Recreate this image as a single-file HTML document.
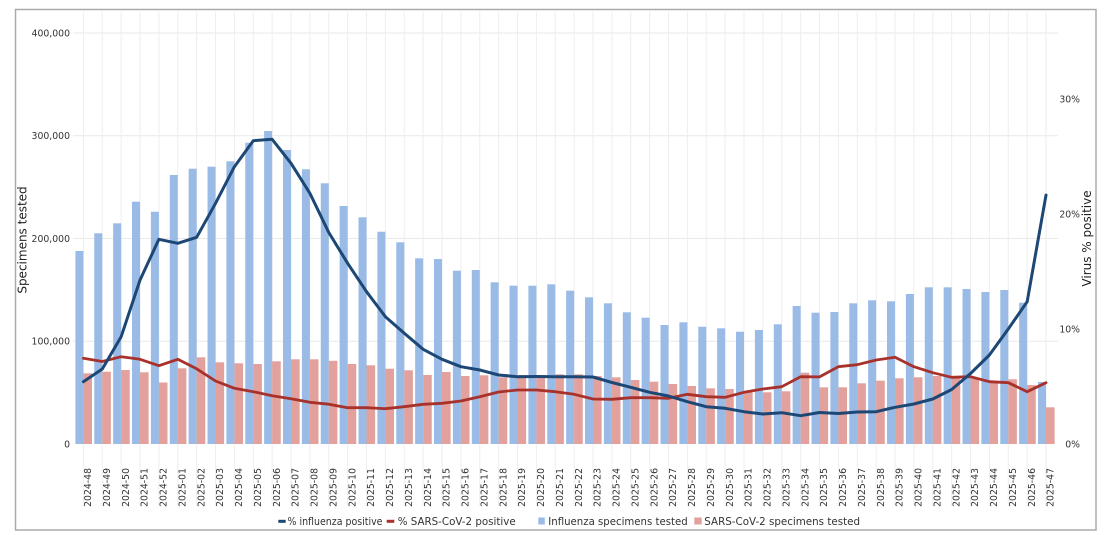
<!DOCTYPE html>
<html><head><meta charset="utf-8"><style>
html,body{margin:0;padding:0;background:#fff;width:1108px;height:535px;overflow:hidden;}
svg{display:block;overflow:hidden;}
text{font-family:"DejaVu Sans","Liberation Sans",sans-serif;}
</style></head><body>
<svg width="1108" height="535" viewBox="0 0 1108 535" xmlns="http://www.w3.org/2000/svg">
<rect x="0" y="0" width="1108" height="535" fill="#fff"/>
<!-- frame -->
<rect x="15.5" y="9.5" width="1080.5" height="520.5" fill="none" stroke="#ababab" stroke-width="1.5"/>
<!-- horizontal gridlines -->
<path d="M73,33H1058M73,135.75H1058M73,238.5H1058M73,341.25H1058" stroke="#e9e9e9" stroke-width="1"/>
<g transform="translate(83.4,0) scale(18.875,1)">
<!-- vertical gridlines -->
<path d="M0,12V506M1,12V506M2,12V506M3,12V506M4,12V506M5,12V506M6,12V506M7,12V506M8,12V506M9,12V506M10,12V506M11,12V506M12,12V506M13,12V506M14,12V506M15,12V506M16,12V506M17,12V506M18,12V506M19,12V506M20,12V506M21,12V506M22,12V506M23,12V506M24,12V506M25,12V506M26,12V506M27,12V506M28,12V506M29,12V506M30,12V506M31,12V506M32,12V506M33,12V506M34,12V506M35,12V506M36,12V506M37,12V506M38,12V506M39,12V506M40,12V506M41,12V506M42,12V506M43,12V506M44,12V506M45,12V506M46,12V506M47,12V506M48,12V506M49,12V506M50,12V506M51,12V506" stroke="#eeeeee" stroke-width="1" vector-effect="non-scaling-stroke"/>
<!-- influenza bars -->
<g fill="#99bbe6">
<rect x="-0.424" width="0.424" y="251" height="193"/>
<rect x="0.576" width="0.424" y="233.3" height="210.7"/>
<rect x="1.576" width="0.424" y="223.3" height="220.7"/>
<rect x="2.576" width="0.424" y="201.7" height="242.3"/>
<rect x="3.576" width="0.424" y="211.7" height="232.3"/>
<rect x="4.576" width="0.424" y="175" height="269"/>
<rect x="5.576" width="0.424" y="168.7" height="275.3"/>
<rect x="6.576" width="0.424" y="166.7" height="277.3"/>
<rect x="7.576" width="0.424" y="161.3" height="282.7"/>
<rect x="8.576" width="0.424" y="142.7" height="301.3"/>
<rect x="9.576" width="0.424" y="131" height="313"/>
<rect x="10.576" width="0.424" y="150" height="294"/>
<rect x="11.576" width="0.424" y="169.3" height="274.7"/>
<rect x="12.576" width="0.424" y="183.3" height="260.7"/>
<rect x="13.576" width="0.424" y="206" height="238"/>
<rect x="14.576" width="0.424" y="217.3" height="226.7"/>
<rect x="15.576" width="0.424" y="231.7" height="212.3"/>
<rect x="16.576" width="0.424" y="242.3" height="201.7"/>
<rect x="17.576" width="0.424" y="258.3" height="185.7"/>
<rect x="18.576" width="0.424" y="259" height="185"/>
<rect x="19.576" width="0.424" y="270.7" height="173.3"/>
<rect x="20.576" width="0.424" y="270" height="174"/>
<rect x="21.576" width="0.424" y="282.3" height="161.7"/>
<rect x="22.576" width="0.424" y="285.7" height="158.3"/>
<rect x="23.576" width="0.424" y="285.7" height="158.3"/>
<rect x="24.576" width="0.424" y="284.3" height="159.7"/>
<rect x="25.576" width="0.424" y="290.7" height="153.3"/>
<rect x="26.576" width="0.424" y="297.3" height="146.7"/>
<rect x="27.576" width="0.424" y="303.3" height="140.7"/>
<rect x="28.576" width="0.424" y="312.3" height="131.7"/>
<rect x="29.576" width="0.424" y="317.7" height="126.3"/>
<rect x="30.576" width="0.424" y="325" height="119"/>
<rect x="31.576" width="0.424" y="322.3" height="121.7"/>
<rect x="32.576" width="0.424" y="326.7" height="117.3"/>
<rect x="33.576" width="0.424" y="328.3" height="115.7"/>
<rect x="34.576" width="0.424" y="331.7" height="112.3"/>
<rect x="35.576" width="0.424" y="330" height="114"/>
<rect x="36.576" width="0.424" y="324.3" height="119.7"/>
<rect x="37.576" width="0.424" y="306" height="138"/>
<rect x="38.576" width="0.424" y="312.7" height="131.3"/>
<rect x="39.576" width="0.424" y="312" height="132"/>
<rect x="40.576" width="0.424" y="303.3" height="140.7"/>
<rect x="41.576" width="0.424" y="300.3" height="143.7"/>
<rect x="42.576" width="0.424" y="301.3" height="142.7"/>
<rect x="43.576" width="0.424" y="294" height="150"/>
<rect x="44.576" width="0.424" y="287.3" height="156.7"/>
<rect x="45.576" width="0.424" y="287.3" height="156.7"/>
<rect x="46.576" width="0.424" y="289" height="155"/>
<rect x="47.576" width="0.424" y="292" height="152"/>
<rect x="48.576" width="0.424" y="290" height="154"/>
<rect x="49.576" width="0.424" y="302.7" height="141.3"/>
<rect x="50.576" width="0.424" y="382" height="62"/>
</g>
<!-- SARS-CoV-2 bars -->
<g fill="#e2a19c">
<rect x="0" width="0.456" y="373.3" height="70.7"/>
<rect x="1" width="0.456" y="371.7" height="72.3"/>
<rect x="2" width="0.456" y="370" height="74"/>
<rect x="3" width="0.456" y="372.3" height="71.7"/>
<rect x="4" width="0.456" y="382.5" height="61.5"/>
<rect x="5" width="0.456" y="368.3" height="75.7"/>
<rect x="6" width="0.456" y="357.3" height="86.7"/>
<rect x="7" width="0.456" y="362.3" height="81.7"/>
<rect x="8" width="0.456" y="363.3" height="80.7"/>
<rect x="9" width="0.456" y="364" height="80"/>
<rect x="10" width="0.456" y="361.3" height="82.7"/>
<rect x="11" width="0.456" y="359.3" height="84.7"/>
<rect x="12" width="0.456" y="359.3" height="84.7"/>
<rect x="13" width="0.456" y="360.8" height="83.2"/>
<rect x="14" width="0.456" y="364" height="80"/>
<rect x="15" width="0.456" y="365.3" height="78.7"/>
<rect x="16" width="0.456" y="368.7" height="75.3"/>
<rect x="17" width="0.456" y="370.3" height="73.7"/>
<rect x="18" width="0.456" y="375" height="69"/>
<rect x="19" width="0.456" y="372" height="72"/>
<rect x="20" width="0.456" y="376" height="68"/>
<rect x="21" width="0.456" y="375.3" height="68.7"/>
<rect x="22" width="0.456" y="377.3" height="66.7"/>
<rect x="23" width="0.456" y="375" height="69"/>
<rect x="24" width="0.456" y="375" height="69"/>
<rect x="25" width="0.456" y="374.3" height="69.7"/>
<rect x="26" width="0.456" y="374.3" height="69.7"/>
<rect x="27" width="0.456" y="376" height="68"/>
<rect x="28" width="0.456" y="377.3" height="66.7"/>
<rect x="29" width="0.456" y="380" height="64"/>
<rect x="30" width="0.456" y="381.7" height="62.3"/>
<rect x="31" width="0.456" y="384" height="60"/>
<rect x="32" width="0.456" y="386" height="58"/>
<rect x="33" width="0.456" y="388.3" height="55.7"/>
<rect x="34" width="0.456" y="389" height="55"/>
<rect x="35" width="0.456" y="391.7" height="52.3"/>
<rect x="36" width="0.456" y="392.3" height="51.7"/>
<rect x="37" width="0.456" y="391.3" height="52.7"/>
<rect x="38" width="0.456" y="372.7" height="71.3"/>
<rect x="39" width="0.456" y="387.3" height="56.7"/>
<rect x="40" width="0.456" y="387.3" height="56.7"/>
<rect x="41" width="0.456" y="383.3" height="60.7"/>
<rect x="42" width="0.456" y="380.7" height="63.3"/>
<rect x="43" width="0.456" y="378.3" height="65.7"/>
<rect x="44" width="0.456" y="377.3" height="66.7"/>
<rect x="45" width="0.456" y="376" height="68"/>
<rect x="46" width="0.456" y="377.5" height="66.5"/>
<rect x="47" width="0.456" y="378.3" height="65.7"/>
<rect x="48" width="0.456" y="380.7" height="63.3"/>
<rect x="49" width="0.456" y="379.3" height="64.7"/>
<rect x="50" width="0.456" y="385" height="59"/>
<rect x="51" width="0.456" y="407.3" height="36.7"/>
</g>
<!-- lines -->
<polyline fill="none" stroke="#a8322b" stroke-width="2.8" stroke-linejoin="round" stroke-linecap="round" vector-effect="non-scaling-stroke" points="0,358.3 1,361.5 2,356.7 3,359.3 4,365.7 5,359.3 6,368.8 7,381 8,388.3 9,391.7 10,395.7 11,398.7 12,402.3 13,404.2 14,407.7 15,407.7 16,408.7 17,406.7 18,404.3 19,403.3 20,401 21,396.7 22,392 23,390 24,390 25,391.7 26,394.3 27,399 28,399.3 29,397.7 30,397.7 31,398.3 32,394.3 33,396.7 34,397.3 35,392.3 36,389 37,386.7 38,376.7 39,376.9 40,366.7 41,364.7 42,360 43,357.3 44,366.7 45,372.7 46,377.3 47,376.7 48,381.7 49,382.7 50,391.7 51,382.7"/>
<polyline fill="none" stroke="#1d4775" stroke-width="3" stroke-linejoin="round" stroke-linecap="round" vector-effect="non-scaling-stroke" points="0,381.7 1,369 2,336.7 3,280 4,239.3 5,243.3 6,237.3 7,203.3 8,166.7 9,140.7 10,139.3 11,163.3 12,193.3 13,232.5 14,263.3 15,291.7 16,316.7 17,333.3 18,349.3 19,359.3 20,366.7 21,370 22,375 23,376.7 24,376.5 25,376.7 26,376.7 27,377 28,382.5 29,387.3 30,392.3 31,396 32,401.7 33,406.7 34,408.3 35,411.7 36,414 37,412.7 38,415.7 39,412.5 40,413.5 41,412 42,411.7 43,407.3 44,404 45,399 46,389.5 47,373.5 48,355 49,329 50,301.7 51,195"/>
</g>
<!-- axis labels -->
<g font-size="9.3" fill="#333" text-anchor="end">
<text x="70" y="36.4">400,000</text>
<text x="70" y="139.2">300,000</text>
<text x="70" y="241.9">200,000</text>
<text x="70" y="344.6">100,000</text>
<text x="70" y="447.4">0</text>
<text x="1080" y="102.4">30%</text>
<text x="1080" y="217.4">20%</text>
<text x="1080" y="332.4">10%</text>
<text x="1080" y="447.4">0%</text>
</g>
<!-- axis titles -->
<text transform="translate(26.5,240) rotate(-90)" font-size="12" fill="#222" text-anchor="middle">Specimens tested</text>
<text transform="translate(1091,238.5) rotate(-90)" font-size="12" fill="#222" text-anchor="middle">Virus % positive</text>
<!-- x labels -->
<g font-size="9.3" fill="#333" text-anchor="end">
<text transform="translate(91,468) rotate(-90)">2024-48</text>
<text transform="translate(109.88,468) rotate(-90)">2024-49</text>
<text transform="translate(128.75,468) rotate(-90)">2024-50</text>
<text transform="translate(147.63,468) rotate(-90)">2024-51</text>
<text transform="translate(166.5,468) rotate(-90)">2024-52</text>
<text transform="translate(185.38,468) rotate(-90)">2025-01</text>
<text transform="translate(204.25,468) rotate(-90)">2025-02</text>
<text transform="translate(223.13,468) rotate(-90)">2025-03</text>
<text transform="translate(242,468) rotate(-90)">2025-04</text>
<text transform="translate(260.88,468) rotate(-90)">2025-05</text>
<text transform="translate(279.75,468) rotate(-90)">2025-06</text>
<text transform="translate(298.63,468) rotate(-90)">2025-07</text>
<text transform="translate(317.5,468) rotate(-90)">2025-08</text>
<text transform="translate(336.38,468) rotate(-90)">2025-09</text>
<text transform="translate(355.25,468) rotate(-90)">2025-10</text>
<text transform="translate(374.13,468) rotate(-90)">2025-11</text>
<text transform="translate(393,468) rotate(-90)">2025-12</text>
<text transform="translate(411.88,468) rotate(-90)">2025-13</text>
<text transform="translate(430.75,468) rotate(-90)">2025-14</text>
<text transform="translate(449.63,468) rotate(-90)">2025-15</text>
<text transform="translate(468.5,468) rotate(-90)">2025-16</text>
<text transform="translate(487.38,468) rotate(-90)">2025-17</text>
<text transform="translate(506.25,468) rotate(-90)">2025-18</text>
<text transform="translate(525.13,468) rotate(-90)">2025-19</text>
<text transform="translate(544,468) rotate(-90)">2025-20</text>
<text transform="translate(562.88,468) rotate(-90)">2025-21</text>
<text transform="translate(581.75,468) rotate(-90)">2025-22</text>
<text transform="translate(600.63,468) rotate(-90)">2025-23</text>
<text transform="translate(619.5,468) rotate(-90)">2025-24</text>
<text transform="translate(638.38,468) rotate(-90)">2025-25</text>
<text transform="translate(657.25,468) rotate(-90)">2025-26</text>
<text transform="translate(676.13,468) rotate(-90)">2025-27</text>
<text transform="translate(695,468) rotate(-90)">2025-28</text>
<text transform="translate(713.88,468) rotate(-90)">2025-29</text>
<text transform="translate(732.75,468) rotate(-90)">2025-30</text>
<text transform="translate(751.63,468) rotate(-90)">2025-31</text>
<text transform="translate(770.5,468) rotate(-90)">2025-32</text>
<text transform="translate(789.38,468) rotate(-90)">2025-33</text>
<text transform="translate(808.25,468) rotate(-90)">2025-34</text>
<text transform="translate(827.13,468) rotate(-90)">2025-35</text>
<text transform="translate(846,468) rotate(-90)">2025-36</text>
<text transform="translate(864.88,468) rotate(-90)">2025-37</text>
<text transform="translate(883.75,468) rotate(-90)">2025-38</text>
<text transform="translate(902.63,468) rotate(-90)">2025-39</text>
<text transform="translate(921.5,468) rotate(-90)">2025-40</text>
<text transform="translate(940.38,468) rotate(-90)">2025-41</text>
<text transform="translate(959.25,468) rotate(-90)">2025-42</text>
<text transform="translate(978.13,468) rotate(-90)">2025-43</text>
<text transform="translate(997,468) rotate(-90)">2025-44</text>
<text transform="translate(1015.88,468) rotate(-90)">2025-45</text>
<text transform="translate(1034.75,468) rotate(-90)">2025-46</text>
<text transform="translate(1053.63,468) rotate(-90)">2025-47</text>
</g>
<!-- legend -->
<rect x="278.3" y="519.8" width="7.4" height="3" fill="#1d4775"/>
<text x="287.5" y="525" font-size="10.3" fill="#333" textLength="95" lengthAdjust="spacingAndGlyphs">% influenza positive</text>
<rect x="386.7" y="519.8" width="7.6" height="3" fill="#a8322b"/>
<text x="397.7" y="525" font-size="10.3" fill="#333" textLength="118" lengthAdjust="spacingAndGlyphs">% SARS-CoV-2 positive</text>
<rect x="538.3" y="517.5" width="6.5" height="7" fill="#99bbe6"/>
<text x="548.3" y="525" font-size="10.3" fill="#333" textLength="139.4" lengthAdjust="spacingAndGlyphs">Influenza specimens tested</text>
<rect x="694.3" y="517.5" width="7.4" height="7" fill="#e2a19c"/>
<text x="704.3" y="525" font-size="10.3" fill="#333" textLength="155.7" lengthAdjust="spacingAndGlyphs">SARS-CoV-2 specimens tested</text>
</svg>
</body></html>
